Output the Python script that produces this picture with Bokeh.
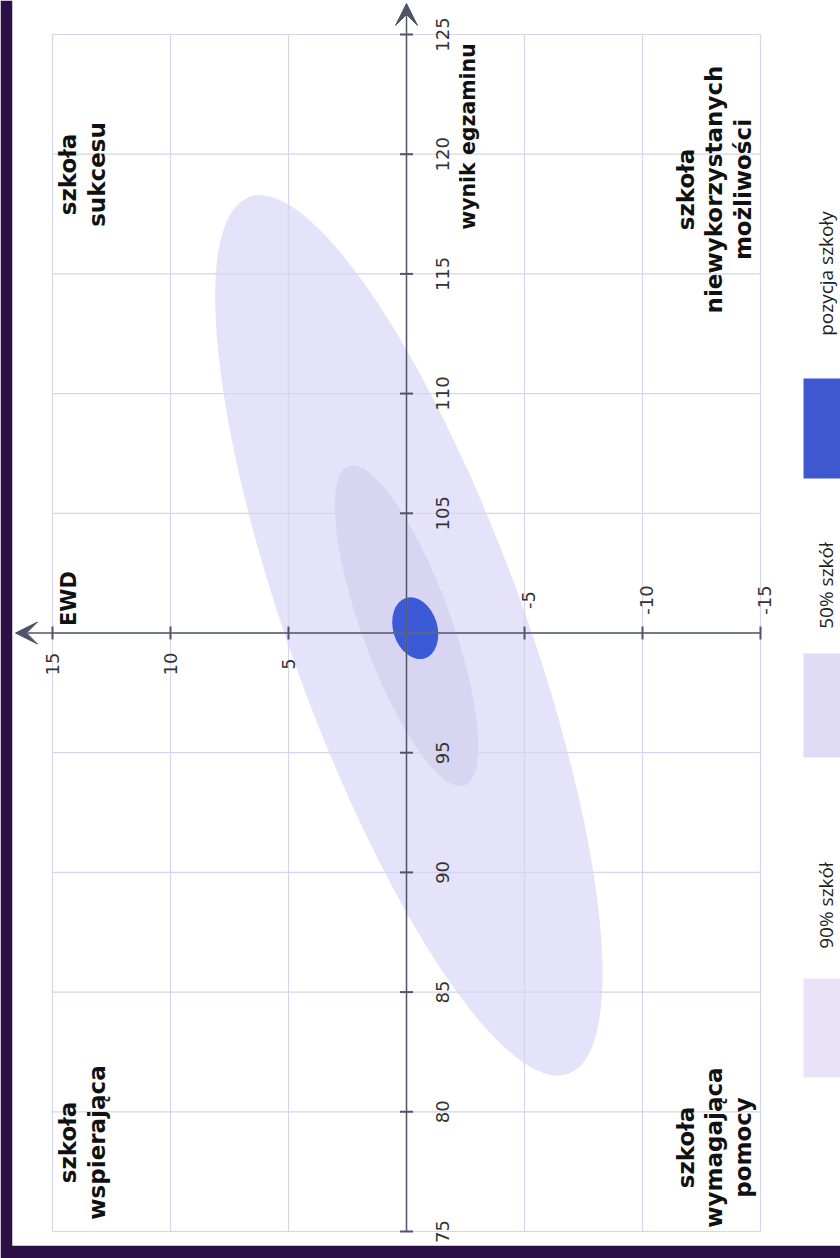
import math
from bokeh.plotting import figure
from bokeh.models import Range1d, Arrow, VeeHead, ColumnDataSource
from bokeh.core.properties import value
from bokeh.embed import file_html
from bokeh.resources import INLINE

# ---------------- data ----------------
ewd_pos_ticks = [15, 10, 5]
ewd_pos_labels = ["15", "10", "5"]
ewd_neg_ticks = [-5, -10, -15]
ewd_neg_labels = ["-5", "-10", "-15"]
exam_ticks = [75, 80, 85, 90, 95, 105, 110, 115, 120, 125]
exam_labels = ["75", "80", "85", "90", "95", "105", "110", "115", "120", "125"]
grid_ewd = [15, 10, 5, 0, -5, -10, -15]
grid_exam = [75, 80, 85, 90, 95, 100, 105, 110, 115, 120, 125]

series_names = ["90% szkół", "50% szkół", "pozycja szkoły"]
series_ewd = [-0.1, 0.0, -0.37]          # ellipse centre, EWD
series_exam = [99.9, 100.3, 100.2]       # ellipse centre, wynik egzaminu
series_width = [9.9, 3.8, 1.87]          # minor axis (EWD units)
series_height = [39.0, 14.2, 2.64]       # major axis (exam units)
series_tilt = [20, 20, 17]               # degrees
series_colors = ["#e5e3f9", "#d8d5f3", "#3b5ad8"]
legend_colors = ["#eae2f6", "#e0dcf5", "#4058cf"]

quadrant_labels = ["szkoła\nsukcesu",
                   "szkoła\nniewykorzystanych\nmożliwości",
                   "szkoła\nwspierająca",
                   "szkoła\nwymagająca\npomocy"]

# ---------------- layout helpers (window px -> data) ----------------
def ex(wx):
    return 15 - (wx - 52) / 23.6

def ey(wy):
    return 125 - (wy - 34) / 23.94

AX = "#4f5468"
GRID = "#d5d5ef"
PURPLE = "#2b0f45"
ROT = math.pi / 2

p = figure(width=840, height=1258,
           x_range=Range1d(ex(12), ex(840)), y_range=Range1d(ey(1245), ey(0)),
           output_backend="svg", toolbar_location=None,
           x_axis_location=None, y_axis_location=None,
           min_border_left=12, min_border_bottom=13, min_border_top=0, min_border_right=0,
           border_fill_color=PURPLE, background_fill_color="white",
           outline_line_color=None)
p.xgrid.visible = False
p.ygrid.visible = False

# ellipses
src = ColumnDataSource(dict(x=series_ewd, y=series_exam, w=series_width, h=series_height,
                            a=[math.radians(t) for t in series_tilt], c=series_colors))
p.ellipse(x="x", y="y", width="w", height="h", angle="a", fill_color="c",
          line_color=None, source=src)

# grid
p.segment(x0=grid_ewd, y0=[75] * len(grid_ewd), x1=grid_ewd, y1=[125] * len(grid_ewd),
          line_color=GRID, line_width=1.2)
p.segment(x0=[-15] * len(grid_exam), y0=grid_exam, x1=[15] * len(grid_exam), y1=grid_exam,
          line_color=GRID, line_width=1.2)

# axes with arrows
for xs, ys, xe, ye in [(0, 75, 0, ey(3)), (-15, 100, ex(15), 100)]:
    p.add_layout(Arrow(end=VeeHead(size=22, fill_color=AX, fill_alpha=1.0,
                                   line_color=AX, line_width=1),
                       x_start=xs, y_start=ys, x_end=xe, y_end=ye,
                       line_color=AX, line_width=1.5))

# tick marks
p.scatter(x=[0] * len(exam_ticks), y=exam_ticks, marker="dash", size=13,
          line_color=AX, line_width=2)
p.scatter(x=ewd_pos_ticks + ewd_neg_ticks, y=[100] * 6, marker="dash", size=13,
          angle=ROT, line_color=AX, line_width=2)

# tick labels
tick_font = dict(text_font=value("DejaVu Sans"), text_font_size="18px", text_color="#333333",
                 angle=ROT, text_align="center", text_baseline="middle")
p.text(x=[0] * len(exam_ticks), y=exam_ticks, text=exam_labels, x_offset=36, **tick_font)
p.text(x=ewd_pos_ticks, y=[100] * 3, text=ewd_pos_labels, y_offset=31, **tick_font)
p.text(x=ewd_neg_ticks, y=[100] * 3, text=ewd_neg_labels, y_offset=-33, x_offset=4, **tick_font)

# axis titles
p.text(x=[ex(467)], y=[ey(136)], text=["wynik egzaminu"], angle=ROT,
       text_font=value("DejaVu Sans"), text_font_style="bold", text_font_size="20.5px",
       text_color="#111111", text_align="center", text_baseline="middle")
p.text(x=[ex(68)], y=[ey(598)], text=["EWD"], angle=ROT,
       text_font=value("DejaVu Sans"), text_font_style="bold", text_font_size="21px",
       text_color="#111111", text_align="center", text_baseline="middle")

# quadrant labels
p.text(x=[ex(82), ex(714), ex(82), ex(714)], y=[ey(174), ey(189), ey(1142), ey(1147)],
       text=quadrant_labels, angle=ROT,
       text_font=value("DejaVu Sans"), text_font_style="bold", text_font_size="23px",
       text_line_height=1.1, text_color="#111111", text_align="center", text_baseline="middle")

# legend
p.quad(left=[ex(803)] * 3, right=[ex(850)] * 3,
       bottom=[ey(1077), ey(757), ey(478)], top=[ey(978), ey(653), ey(378)],
       fill_color=legend_colors, line_color=None)
p.text(x=[ex(825)] * 3, y=[ey(905), ey(585), ey(273)], text=series_names, angle=ROT,
       text_font=value("Open Sans"), text_font_size="19px", text_color="#222222",
       text_align="center", text_baseline="middle")

open("out.html", "w").write(file_html(p, INLINE))
